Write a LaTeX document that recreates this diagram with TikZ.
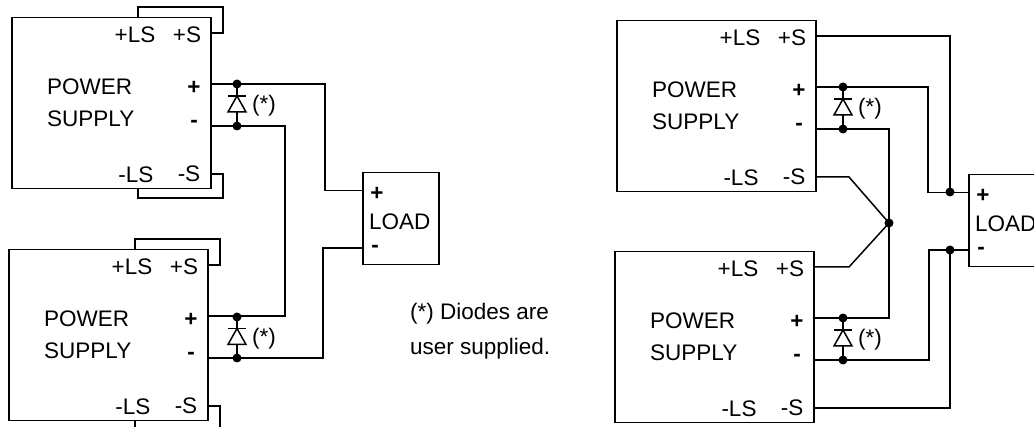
\documentclass[tikz,border=0pt]{standalone}
\usepackage{fontspec}
\usetikzlibrary{calc}
\setmainfont{Liberation Sans}
\newcommand\fsz{\fontsize{22.5}{26}\selectfont}
\newcommand\fss{\fontsize{22.5}{26}\selectfont}
\tikzset{
  wire/.style={line width=1.5pt, line join=miter},
  lbl/.style={font=\fsz, inner sep=0pt, anchor=base},
  sym/.style={font=\fsz\bfseries, inner sep=0pt, anchor=base},
  psbox/.style={draw, line width=1.5pt, minimum width=199pt, minimum height=171pt, inner sep=0pt, anchor=north west},
  loadbox/.style={draw, line width=1.5pt, minimum width=76pt, minimum height=92pt, inner sep=0pt, anchor=north west},
  jdot/.style={circle, fill, inner sep=0pt, minimum size=9pt},
}
\newcommand\PSupply[3]{%
\begin{scope}[shift={(#2,#3)}]
\node[psbox] (#1) at (0,0) {};
\node[lbl] (#1-tpls) at (124,26) {+LS};
\node[lbl] (#1-tps) at (176,26) {+S};
\node[lbl, anchor=base west] (#1-tpw) at (36,78) {POWER};
\node[lbl, anchor=base west] (#1-tsu) at (36,110) {SUPPLY};
\node[sym] (#1-tp) at (183,78) {+};
\node[sym] (#1-tm) at (183,111) {-};
\node[lbl] (#1-tmls) at (125,166) {-LS};
\node[lbl] (#1-tms) at (178,165) {-S};
\coordinate (#1-ps) at (199,16);
\coordinate (#1-p) at (199,67);
\coordinate (#1-m) at (199,109);
\coordinate (#1-ms) at (199,157);
\coordinate (#1-pls) at (127,0);
\coordinate (#1-mls) at (127,171);
\end{scope}}
\newcommand\Diode[3]{%
\begin{scope}[shift={(#2,#3)}]
\coordinate (#1-k) at (0,-9);
\coordinate (#1-a) at (0,7);
\draw[wire] (-9,-9) -- (9,-9);
\draw[wire] (0,-9) -- (-9,7) -- (9,7) -- cycle;
\node[font=\fss, inner sep=0pt] (#1-star) at (27,1) {(*)};
\end{scope}}
\newcommand\Load[3]{%
\begin{scope}[shift={(#2,#3)}]
\node[loadbox] (#1) at (0,0) {};
\node[sym] (#1-tp) at (15,29) {+};
\node[lbl, anchor=base west] (#1-tl) at (7,58) {LOAD};
\node[sym] (#1-tm) at (13,81) {-};
\coordinate (#1-p) at (0,18.5);
\coordinate (#1-m) at (0,76);
\end{scope}}
\begin{document}
\begin{tikzpicture}[x=1pt,y=-1pt]
\useasboundingbox (0,0) rectangle (1034,427);
\clip (0,0) rectangle (1034,427);
% ---------- left arrangement ----------
\PSupply{TL}{11}{17}
\PSupply{BL}{8}{249}
\Load{LA}{362}{172}
% local sense loops
\draw[wire] (TL-pls) -- ++(0,-10) -| ($(TL-ps)+(13,0)$) -- (TL-ps);
\draw[wire] (TL-mls) -- ++(0,10) -| ($(TL-ms)+(13,0)$) -- (TL-ms);
\draw[wire] (BL-pls) -- ++(0,-10) -| ($(BL-ps)+(13,0)$) -- (BL-ps);
\draw[wire] (BL-mls) -- ++(0,10) -| ($(BL-ms)+(13,0)$) -- (BL-ms);
% diodes
\node[jdot] (d1) at (237,84) {};
\node[jdot] (d2) at (237,126) {};
\node[jdot] (d3) at (237,317) {};
\node[jdot] (d4) at (237,358) {};
\Diode{DA}{237}{105}
\Diode{DB}{237}{337.5}
\draw[wire] (d1.center) -- (DA-k);
\draw[wire] (DA-a) -- (d2.center);
\draw[wire] (d3.center) -- (DB-k);
\draw[wire] (DB-a) -- (d4.center);
% load wiring
\draw[wire] (TL-p) -- ++(115,0) |- (LA-p);
\draw[wire] (TL-m) -- ++(75,0) |- (BL-p);
\draw[wire] (BL-m) -- ++(116,0) |- (LA-m);
% note
\node[lbl, anchor=base west] (note1) at (410,320) {(*) Diodes are};
\node[lbl, anchor=base west] (note2) at (410,355) {user supplied.};
% ---------- right arrangement ----------
\PSupply{TR}{616}{20}
\PSupply{BR}{614}{251}
\Load{LB}{968}{174}
\node[jdot] (r1) at (843,87) {};
\node[jdot] (r2) at (843,129) {};
\node[jdot] (r3) at (843,318) {};
\node[jdot] (r4) at (843,360) {};
\Diode{DC}{843}{108}
\Diode{DD}{843}{339}
\draw[wire] (r1.center) -- (DC-k);
\draw[wire] (DC-a) -- (r2.center);
\draw[wire] (r3.center) -- (DD-k);
\draw[wire] (DD-a) -- (r4.center);
\node[jdot] (mj) at (889,223) {};
\node[jdot] (sp) at (950,192) {};
\node[jdot] (sm) at (950,250) {};
\draw[wire] (TR-ps) -| (sp.center);
\draw[wire] (TR-p) -- ++(113,0) |- (LB-p);
\draw[wire] (TR-m) -| (mj.center) |- (BR-p);
\draw[wire] (TR-ms) -- ++(34,0) -- (mj.center);
\draw[wire] (BR-ps) -- ++(36,0) -- (mj.center);
\draw[wire] (BR-m) -- ++(116,0) |- (LB-m);
\draw[wire] (BR-ms) -| (sm.center);
\end{tikzpicture}
\end{document}
